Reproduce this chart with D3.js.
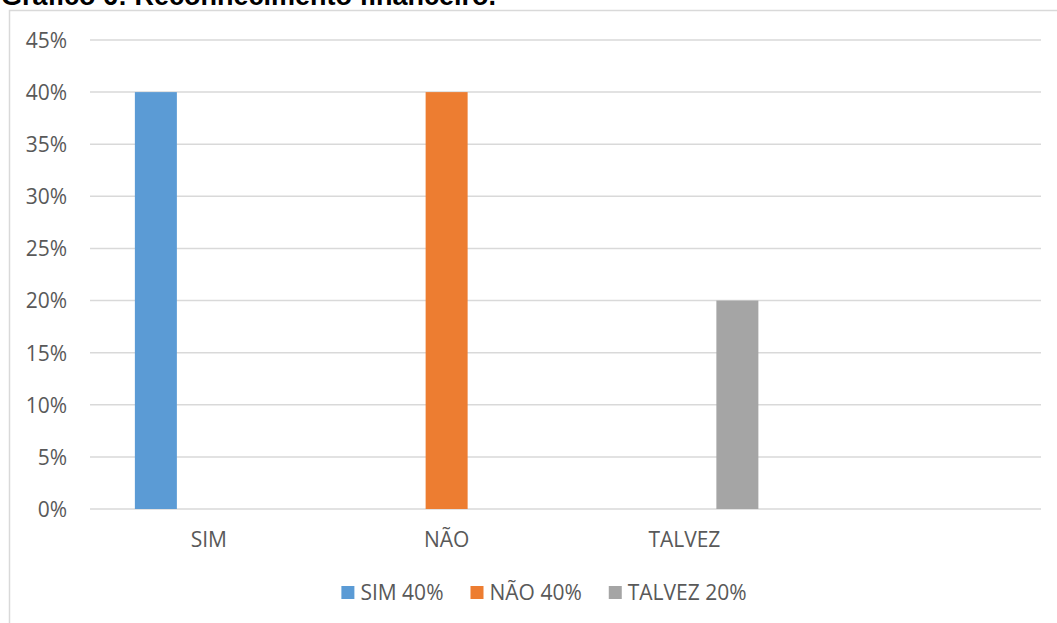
<!DOCTYPE html>
<html>
<head>
<meta charset="utf-8">
<script src="https://cdn.jsdelivr.net/npm/d3@7"></script>
<style>
  html, body { margin: 0; padding: 0; background: #fff; overflow: hidden; }
  svg { display: block; }
</style>
</head>
<body>
<script>
// Answers grouped by category; one series per answer
const categories = ["SIM", "NÃO", "TALVEZ", ""];
const seriesNames = ["SIM", "NÃO", "TALVEZ"];
const seriesValues = [
  [0.40, null, null, null],
  [null, 0.40, null, null],
  [null, null, 0.20, null]
];
const legendLabels = ["SIM 40%", "NÃO 40%", "TALVEZ 20%"];
const yTicks = [0, 0.05, 0.10, 0.15, 0.20, 0.25, 0.30, 0.35, 0.40, 0.45];
const colors = ["#5B9BD5", "#ED7D31", "#A5A5A5"];

const W = 1057, H = 623;
const font = "'Open Sans', sans-serif";

const svg = d3.select("body").append("svg")
  .attr("width", W).attr("height", H);

// Title (sits above the chart frame)
svg.append("text")
  .attr("x", 1).attr("y", 5)
  .attr("font-family", "'Liberation Sans', Arial, sans-serif")
  .attr("font-weight", "bold")
  .attr("font-size", 27)
  .attr("fill", "#000")
  .text("Gráfico 6: Reconhecimento financeiro.");

// Chart frame
svg.append("rect")
  .attr("x", 9.5).attr("y", 10.5)
  .attr("width", 1070).attr("height", 700)
  .attr("fill", "none")
  .attr("stroke", "#D9D9D9")
  .attr("stroke-width", 1.5);

const plot = { left: 90, right: 1041, top: 40, bottom: 509 };

const y = d3.scaleLinear().domain([0, 0.45]).range([plot.bottom, plot.top]);
const x = d3.scaleBand().domain(d3.range(categories.length))
  .range([plot.left, plot.right]).padding(0);
const xs = d3.scaleBand().domain(d3.range(seriesNames.length))
  .range([-79.5, 79.5]).paddingInner(11 / 53).paddingOuter(11 / 106);

// Gridlines
svg.append("g").selectAll("line").data(yTicks).join("line")
  .attr("x1", plot.left).attr("x2", plot.right)
  .attr("y1", d => y(d)).attr("y2", d => y(d))
  .attr("stroke", "#D9D9D9").attr("stroke-width", 1.5);

// Y axis labels
const yAxis = d3.axisLeft(y).tickValues(yTicks).tickFormat(d3.format(".0%")).tickSize(0).tickPadding(0);
const ya = svg.append("g").attr("transform", "translate(67,0)").call(yAxis);
ya.select(".domain").remove();
ya.selectAll("text")
  .attr("font-family", font).attr("font-size", 21)
  .attr("fill", "#595959").attr("dy", "0.35em");

// Bars
seriesValues.forEach((vals, si) => {
  svg.append("g").selectAll("rect")
    .data(vals.map((v, ci) => ({ v, ci })).filter(d => d.v != null))
    .join("rect")
    .attr("x", d => x(d.ci) + x.bandwidth() / 2 + xs(si))
    .attr("width", xs.bandwidth())
    .attr("y", d => y(d.v))
    .attr("height", d => y(0) - y(d.v))
    .attr("fill", colors[si]);
});

// X axis labels
const xAxis = d3.axisBottom(x).tickFormat(i => categories[i]).tickSize(0).tickPadding(0);
const xa = svg.append("g").attr("transform", "translate(0,547)").call(xAxis);
xa.select(".domain").remove();
xa.selectAll("text")
  .attr("font-family", font).attr("font-size", 21)
  .attr("fill", "#595959").attr("dy", 0);

// Legend
const legend = svg.append("g");
const items = legend.selectAll("g").data(legendLabels).join("g");
items.append("rect")
  .attr("width", 13).attr("height", 13)
  .attr("y", -7)
  .attr("fill", (d, i) => colors[i]);
items.append("text")
  .attr("x", 19).attr("dy", "0.35em")
  .attr("font-family", font).attr("font-size", 21)
  .attr("fill", "#595959")
  .text(d => d);
let cx = 0;
items.each(function () {
  const w = this.querySelector("text").getComputedTextLength() + 19;
  d3.select(this).attr("transform", `translate(${cx},0)`);
  cx += w + 27;
});
const totalW = cx - 27;
legend.attr("transform", `translate(${544 - totalW / 2},593)`);
</script>
</body>
</html>
